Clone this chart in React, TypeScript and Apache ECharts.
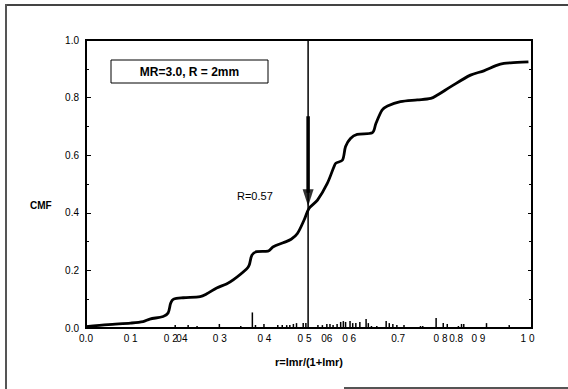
import React, { useEffect, useRef } from "react";
import * as echarts from "echarts";

const curveX = [0, 0.05, 0.1, 0.128, 0.143, 0.173, 0.184, 0.19, 0.196, 0.218, 0.256, 0.27, 0.293, 0.315, 0.33, 0.36, 0.366, 0.372, 0.383, 0.408, 0.42, 0.442, 0.46, 0.474, 0.489, 0.5, 0.519, 0.541, 0.556, 0.56, 0.575, 0.582, 0.593, 0.608, 0.642, 0.65, 0.664, 0.676, 0.705, 0.743, 0.773, 0.788, 0.818, 0.862, 0.892, 0.919, 0.937, 0.967, 0.992];
const curveY = [0.005, 0.012, 0.017, 0.022, 0.031, 0.04, 0.052, 0.087, 0.1, 0.105, 0.109, 0.118, 0.139, 0.153, 0.167, 0.205, 0.219, 0.253, 0.265, 0.267, 0.282, 0.296, 0.308, 0.328, 0.375, 0.415, 0.444, 0.502, 0.56, 0.572, 0.583, 0.63, 0.658, 0.672, 0.678, 0.71, 0.757, 0.771, 0.786, 0.792, 0.797, 0.809, 0.838, 0.878, 0.893, 0.911, 0.919, 0.922, 0.924];

const spikeX = [0.2, 0.229, 0.249, 0.299, 0.347, 0.373, 0.38, 0.399, 0.43, 0.44, 0.45, 0.457, 0.465, 0.472, 0.487, 0.493, 0.52, 0.53, 0.54, 0.547, 0.554, 0.563, 0.571, 0.577, 0.582, 0.592, 0.598, 0.605, 0.614, 0.628, 0.633, 0.64, 0.652, 0.673, 0.68, 0.688, 0.697, 0.713, 0.75, 0.755, 0.785, 0.801, 0.81, 0.835, 0.842, 0.847, 0.898, 0.949];
const spikeH = [0.01, 0.01, 0.007, 0.014, 0.007, 0.054, 0.01, 0.014, 0.01, 0.01, 0.01, 0.01, 0.014, 0.017, 0.017, 0.017, 0.01, 0.01, 0.014, 0.014, 0.01, 0.014, 0.021, 0.024, 0.021, 0.024, 0.017, 0.017, 0.021, 0.031, 0.017, 0.007, 0.007, 0.024, 0.017, 0.014, 0.01, 0.01, 0.007, 0.007, 0.035, 0.017, 0.014, 0.007, 0.014, 0.014, 0.017, 0.01];

const xTickValues = [0, 0.1, 0.19, 0.215, 0.3, 0.4, 0.49, 0.54, 0.59, 0.7, 0.795, 0.83, 0.88, 0.99];
const xTickLabels = ["0.0", "0 1", "0 2", "04", "0 3", "0 4", "0 5", "06", "0 6", "0.7", "0 8", "0.8", "0 9", "1 0"];

const markerX = 0.498;
const arrowTop = 0.735;
const arrowBottom = 0.47;
const arrowHeadY = 0.452;
const yTop = 1;

export default function App() {
  const ref = useRef<HTMLDivElement>(null);
  useEffect(() => {
    document.body.style.margin = "0";
    if (!ref.current) return;
    const chart = echarts.init(ref.current, null, { renderer: "svg" });
    const font = "'Liberation Sans', Arial, sans-serif";
    const curve = curveX.map((x, i) => [x, curveY[i]]);
    const spikes = spikeX.map((x, i) => [x, spikeH[i]]);
    chart.setOption({
      animation: false,
      backgroundColor: "#fff",
      grid: { left: 86, top: 40, right: 36, bottom: 61, containLabel: false, show: true, borderColor: "#000", borderWidth: 2, backgroundColor: "transparent" },
      xAxis: [
        {
          type: "value",
          min: 0,
          max: 1,
          name: "r=lmr/(1+lmr)",
          nameLocation: "middle",
          nameGap: 28,
          nameTextStyle: { fontFamily: font, fontWeight: "bold", fontSize: 11, color: "#000" },
          axisLine: { show: true, onZero: false, lineStyle: { color: "#000", width: 1.5 } },
          axisTick: { show: false },
          splitLine: { show: false },
          axisLabel: {
            customValues: xTickValues,
            formatter: (v: number) => {
              let best = 0;
              for (let i = 0; i < xTickValues.length; i++) {
                if (Math.abs(xTickValues[i] - v) < Math.abs(xTickValues[best] - v)) best = i;
              }
              return xTickLabels[best];
            },
            fontFamily: font,
            fontSize: 10,
            color: "#000",
            margin: 5,
            hideOverlap: false,
          },
        },
      ],
      yAxis: [
        {
          type: "value",
          min: 0,
          max: 1,
          interval: 0.2,
          axisLine: { show: true, onZero: false, lineStyle: { color: "#000", width: 1.5 } },
          axisTick: { show: true, inside: true, length: 5, lineStyle: { color: "#000" } },
          minorTick: { show: true, splitNumber: 2, length: 3, lineStyle: { color: "#000" } },
          splitLine: { show: false },
          axisLabel: { formatter: (v: number) => v.toFixed(1), fontFamily: font, fontSize: 10, color: "#000", margin: 7 },
        },
        {
          type: "value",
          position: "right",
          min: 0,
          max: 1,
          interval: 0.2,
          axisLine: { show: true, onZero: false, lineStyle: { color: "#000", width: 1.5 } },
          axisTick: { show: true, inside: true, length: 4, lineStyle: { color: "#000" } },
          minorTick: { show: true, splitNumber: 2, length: 3, lineStyle: { color: "#000" } },
          axisLabel: { show: false },
          splitLine: { show: false },
        },
      ],
      series: [
        {
          type: "bar",
          data: spikes,
          barWidth: 1.5,
          itemStyle: { color: "#000" },
          silent: true,
        },
        {
          type: "line",
          data: curve,
          smooth: 0.3,
          symbol: "none",
          lineStyle: { color: "#000", width: 2.8 },
        },
        {
          type: "line",
          data: [[0, yTop], [1, yTop]],
          symbol: "none",
          lineStyle: { color: "#000", width: 2 },
        },
        {
          type: "line",
          data: [[markerX, 0], [markerX, 1]],
          symbol: "none",
          lineStyle: { color: "#000", width: 1.5 },
        },
        {
          type: "line",
          data: [[markerX, arrowTop], [markerX, arrowBottom]],
          symbol: "none",
          lineStyle: { color: "#000", width: 3.5 },
        },
        {
          type: "scatter",
          data: [[markerX, arrowHeadY]],
          symbol: "triangle",
          symbolSize: [11, 17],
          symbolRotate: 180,
          itemStyle: { color: "#000" },
        },
      ],
      graphic: [
        { type: "rect", shape: { x: 6, y: 4, width: 562, height: 2 }, style: { fill: "#444" } },
        { type: "rect", shape: { x: 5, y: 4, width: 2, height: 385 }, style: { fill: "#555" } },
        { type: "rect", shape: { x: 344, y: 387, width: 224, height: 2 }, style: { fill: "#555" } },
        { type: "rect", shape: { x: 111, y: 60, width: 157, height: 23 }, style: { fill: "#fff", stroke: "#000", lineWidth: 1 } },
        {
          type: "text",
          x: 189.5,
          y: 71.5,
          style: { text: "MR=3.0, R = 2mm", fontFamily: font, fontWeight: "bold", fontSize: 12, fill: "#000", align: "center", verticalAlign: "middle" },
        },
        {
          type: "text",
          x: 237,
          y: 196,
          style: { text: "R=0.57", fontFamily: font, fontSize: 11, fill: "#000", align: "left", verticalAlign: "middle" },
        },
        {
          type: "text",
          x: 30,
          y: 205,
          style: { text: "CMF", fontFamily: font, fontWeight: "bold", fontSize: 10, fill: "#000", align: "left", verticalAlign: "middle" },
        },
      ],
    });
    return () => chart.dispose();
  }, []);
  return <div ref={ref} style={{ width: 568, height: 389 }} />;
}
